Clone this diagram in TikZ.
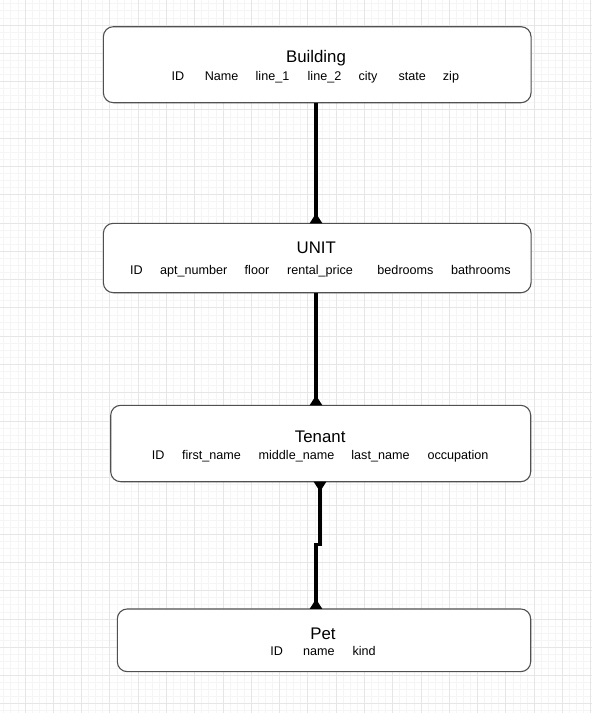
\documentclass[tikz,border=0pt]{standalone}
\usepackage{fontspec}
\setmainfont{Liberation Sans}
\usetikzlibrary{arrows.meta}
\definecolor{gridminor}{RGB}{245,245,245}
\definecolor{gridmajor}{RGB}{230,230,230}
\definecolor{boxline}{RGB}{80,80,80}
\begin{document}
\begin{tikzpicture}[x=1pt,y=-1pt,
  entity/.style={draw=boxline, line width=1.1pt, fill=white, rounded corners=10pt,
    inner sep=0pt, outer sep=0pt},
  etitle/.style={anchor=base, inner sep=0pt, font=\fontsize{16.8}{20}\selectfont},
  attr/.style={anchor=base, inner sep=0pt, font=\fontsize{12.6}{15}\selectfont},
  conn/.style={line width=3.3pt, black},
  >={Triangle[reversed,width=12pt,length=10pt]}]
\useasboundingbox (0,0) rectangle (592,713);

% background grid
\foreach \k in {-3,...,80}
  \draw[gridminor, line width=0.8pt] ({25+7.071*\k},0) -- ({25+7.071*\k},713);
\foreach \k in {-3,...,97}
  \draw[gridminor, line width=0.8pt] (0,{25+7.071*\k}) -- (592,{25+7.071*\k});
\foreach \k in {-1,...,20}
  \draw[gridmajor, line width=0.9pt] ({25+28.284*\k},0) -- ({25+28.284*\k},713);
\foreach \k in {-1,...,24}
  \draw[gridmajor, line width=0.9pt] (0,{25+28.284*\k}) -- (592,{25+28.284*\k});

% entities
\node[entity, minimum width=427.7pt, minimum height=76pt] (building) at (317.2,64.7) {};
\node[etitle] (building-title) at (316,62.7) {Building};
\foreach \t/\x [count=\i] in {ID/178, Name/221.7, line\_1/272.5, line\_2/324.5,
    city/368, state/412.3, zip/451}
  \node[attr] (building-a\i) at (\x,80) {\t};

\node[entity, minimum width=427.7pt, minimum height=69.4pt] (unit) at (317.2,258) {};
\node[etitle] (unit-title) at (316.3,253.3) {UNIT};
\foreach \t/\x [count=\i] in {ID/136.5, apt\_number/193.7, floor/257, rental\_price/320,
    bedrooms/405.5, bathrooms/480.8}
  \node[attr] (unit-a\i) at (\x,274.3) {\t};

\node[entity, minimum width=420pt, minimum height=76.4pt] (tenant) at (320.7,443.5) {};
\node[etitle] (tenant-title) at (320.2,442.3) {Tenant};
\foreach \t/\x [count=\i] in {ID/158.2, first\_name/211.5, middle\_name/296.5,
    last\_name/380.5, occupation/458}
  \node[attr] (tenant-a\i) at (\x,459.3) {\t};

\node[entity, minimum width=413.4pt, minimum height=62.7pt] (pet) at (324,640.3) {};
\node[etitle] (pet-title) at (323,639.3) {Pet};
\foreach \t/\x [count=\i] in {ID/276.7, name/318.8, kind/364.2}
  \node[attr] (pet-a\i) at (\x,655) {\t};

% relationships
\coordinate (colA) at (316,0);
\coordinate (colB) at (320,0);
\coordinate (jog) at (316,544.5);
\draw[conn, ->] (building.south -| colA) -- (unit.north -| colA);
\draw[conn, ->] (unit.south -| colA) -- (tenant.north -| colA);
\draw[conn, <->] (tenant.south -| colB) -- (colB |- jog) -- (jog) -- (pet.north -| colA);
\end{tikzpicture}
\end{document}
